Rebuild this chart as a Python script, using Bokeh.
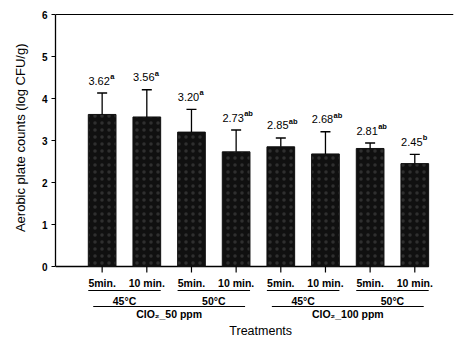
from bokeh.plotting import figure
from bokeh.models import Range1d, Title
from bokeh.core.properties import value
from bokeh.embed import file_html
from bokeh.resources import INLINE

# ---- data ----
times = ["5min.", "10 min.", "5min.", "10 min.", "5min.", "10 min.", "5min.", "10 min."]
temps = ["45°C", "50°C", "45°C", "50°C"]
concs = ["ClO\u2082_50 ppm", "ClO\u2082_100 ppm"]
means = [3.62, 3.56, 3.20, 2.73, 2.85, 2.68, 2.81, 2.45]
sds = [0.51, 0.65, 0.54, 0.52, 0.21, 0.53, 0.13, 0.22]
letters = ["a", "a", "a", "ab", "ab", "ab", "ab", "b"]
y_ticks = [0, 1, 2, 3, 4, 5, 6]
y_title = "Aerobic plate counts (log CFU/g)"
x_title = "Treatments"

# ---- layout constants ----
W, H = 454, 338
LEFT, TOP, ZERO_Y = 52, 13, 266
PXY, PXX = 42.0, 45.0
x_start = -47 / PXX
x_end = x_start + (W - LEFT - 1) / PXX
y_end = (ZERO_Y - TOP) / PXY
y_start = -(H - ZERO_Y) / PXY
axis_end = x_start + (428 - LEFT) / PXX
FONT = "Liberation Sans"
F = value(FONT)


def dy(px):
    return -px / PXY


xs = list(range(len(means)))
tops = [m + s for m, s in zip(means, sds)]

p = figure(width=W, height=H, x_range=Range1d(x_start, x_end),
           y_range=Range1d(y_start, y_end), x_axis_type=None,
           output_backend="svg", toolbar_location=None,
           min_border_left=LEFT, min_border_right=1,
           min_border_top=TOP, min_border_bottom=0)
p.grid.visible = False
p.outline_line_color = None
p.background_fill_color = "white"
p.border_fill_color = "white"

ya = p.yaxis[0]
ya.ticker = y_ticks
ya.bounds = (0, 6)
ya.axis_line_width = 1.3
ya.axis_line_color = "black"
ya.major_tick_out = 4
ya.major_tick_in = 0
ya.major_tick_line_color = "black"
ya.major_tick_line_width = 1.2
ya.minor_tick_line_color = None
ya.major_label_standoff = 4
ya.major_label_text_font = FONT
ya.major_label_text_font_size = "10px"
ya.major_label_text_font_style = "bold"
ya.major_label_text_color = "black"
ya.axis_label = None

# frame top line and x baseline
p.segment(x0=[x_start], y0=[6], x1=[x_end], y1=[6], line_color="black", line_width=1.2)
p.segment(x0=[x_start], y0=[0], x1=[axis_end], y1=[0], line_color="black", line_width=1.3)

# bars
p.vbar(x=xs, top=means, bottom=0, width=0.62, fill_color="#101010",
       line_color="#101010", hatch_pattern="dot", hatch_color="white",
       hatch_alpha=0.13, hatch_scale=7, hatch_weight=0.6)

# error bars (upper only)
p.segment(x0=xs, y0=means, x1=xs, y1=tops, line_color="black", line_width=1.3)
p.scatter(x=xs, y=tops, marker="dash", size=10, line_color="black", line_width=1.4)

# value labels + superscripts
p.text(x=xs, y=[t + 12.5 / PXY for t in tops], text=[f"{m:.2f}" for m in means],
       text_align="center", text_baseline="middle", x_offset=-3,
       text_font=F, text_font_size="11px", text_color="black")
p.text(x=xs, y=[t + 16.5 / PXY for t in tops], text=letters,
       text_align="left", text_baseline="middle", x_offset=8,
       text_font=F, text_font_size="7.5px", text_font_style="bold", text_color="black")

# x ticks and labels
p.segment(x0=xs, y0=[0] * len(xs), x1=xs, y1=[dy(6)] * len(xs), line_color="black", line_width=1.2)
p.text(x=xs, y=[dy(16)] * len(xs), text=times, text_align="center", text_baseline="middle",
       text_font=F, text_font_size="10.5px", text_font_style="bold", text_color="black")

# temperature groups
pair_x0 = [xs[2 * i] - 14 / PXX for i in range(len(temps))]
pair_x1 = [xs[2 * i + 1] + 14 / PXX for i in range(len(temps))]
pair_c = [(xs[2 * i] + xs[2 * i + 1]) / 2 for i in range(len(temps))]
p.segment(x0=pair_x0, y0=[dy(24)] * len(temps), x1=pair_x1, y1=[dy(24)] * len(temps),
          line_color="black", line_width=1.1)
p.text(x=pair_c, y=[dy(34)] * len(temps), text=temps, text_align="center", text_baseline="middle",
       text_font=F, text_font_size="10.5px", text_font_style="bold", text_color="black")

# concentration groups
g_x0 = [xs[4 * i] - 0.2 for i in range(len(concs))]
g_x1 = [xs[4 * i + 3] + 0.2 for i in range(len(concs))]
g_c = [(xs[4 * i] + xs[4 * i + 3]) / 2 for i in range(len(concs))]
p.segment(x0=g_x0, y0=[dy(40)] * len(concs), x1=g_x1, y1=[dy(40)] * len(concs),
          line_color="black", line_width=1.1)
p.text(x=g_c, y=[dy(47.5)] * len(concs), text=concs, text_align="center", text_baseline="middle",
       text_font=F, text_font_size="10.5px", text_font_style="bold", text_color="black")

# axis titles
p.text(x=[sum(xs) / len(xs) + 0.05], y=[dy(64)], text=[x_title], text_align="center",
       text_baseline="middle", text_font=F, text_font_size="12.5px", text_color="black")
p.add_layout(Title(text=y_title, align="right", offset=30, text_font=FONT,
                   text_font_size="13px", text_font_style="normal", text_color="black",
                   standoff=21), "left")

open("out.html", "w").write(file_html(p, INLINE))
